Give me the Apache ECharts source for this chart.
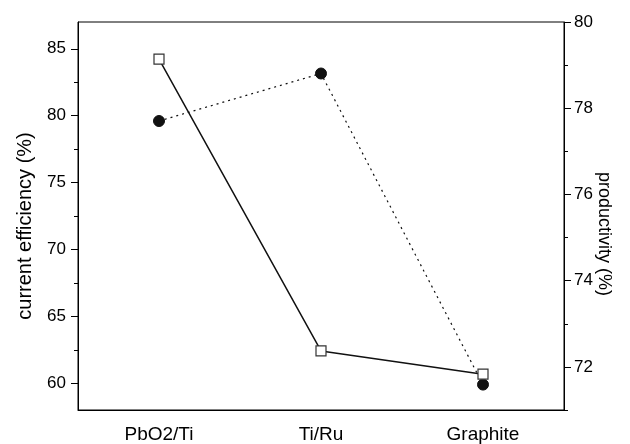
<!DOCTYPE html>
<html>
<head>
<meta charset="utf-8">
<script src="https://cdn.jsdelivr.net/npm/echarts@6/dist/echarts.min.js"></script>
<style>
html, body { margin: 0; padding: 0; background: #fff; }
#main { width: 630px; height: 444px; }
</style>
</head>
<body>
<div id="main"></div>
<script>
var categories = ['PbO2/Ti', 'Ti/Ru', 'Graphite'];
var efficiency = [79.6, 83.15, 59.9];
var productivity = [79.14, 72.37, 71.83];
var leftTicks = [60, 65, 70, 75, 80, 85];
var leftMinor = [62.5, 67.5, 72.5, 77.5, 82.5];
var rightTicks = [72, 74, 76, 78, 80];
var rightMinor = [71, 73, 75, 77, 79];

var dom = document.getElementById('main');
var myChart = echarts.init(dom);
var font = 'Liberation Sans';
var black = '#000';

var option = {
    backgroundColor: '#fff',
    animation: false,
    grid: {
        left: 78, right: 66, top: 22, bottom: 33,
        show: true, borderColor: black, borderWidth: 1, backgroundColor: 'transparent'
    },
    xAxis: [
        {
            type: 'category',
            data: categories,
            boundaryGap: true,
            axisLine: { lineStyle: { color: black, width: 1 } },
            axisTick: { alignWithLabel: true, length: 7, lineStyle: { color: black } },
            axisLabel: { color: black, fontFamily: font, fontSize: 19, margin: 15 }
        },
        {
            type: 'category',
            data: categories,
            position: 'bottom',
            boundaryGap: true,
            axisLine: { show: false },
            axisTick: { length: 4, lineStyle: { color: black } },
            axisLabel: { show: false }
        }
    ],
    yAxis: [
        {
            type: 'value',
            position: 'left',
            min: 58,
            max: 87,
            name: 'current efficiency (%)',
            nameLocation: 'middle',
            nameGap: 43,
            nameRotate: 90,
            nameTextStyle: { color: black, fontFamily: font, fontSize: 20, padding: [0, 20, 0, 0] },
            axisLine: { show: true, lineStyle: { color: black } },
            axisTick: { show: true, length: 7, customValues: leftTicks, lineStyle: { color: black } },
            axisLabel: { color: black, fontFamily: font, fontSize: 17, margin: 12, customValues: leftTicks },
            splitLine: { show: false }
        },
        {
            type: 'value',
            position: 'left',
            min: 58,
            max: 87,
            axisLine: { show: false },
            axisTick: { show: true, length: 4, customValues: leftMinor, lineStyle: { color: black } },
            axisLabel: { show: false },
            splitLine: { show: false }
        },
        {
            type: 'value',
            position: 'right',
            min: 71,
            max: 80,
            name: 'productivity (%)',
            nameLocation: 'middle',
            nameGap: 31,
            nameMoveOverlap: false,
            nameRotate: -90,
            nameTextStyle: { color: black, fontFamily: font, fontSize: 18, padding: [0, 0, 0, 36] },
            axisLine: { show: true, lineStyle: { color: black } },
            axisTick: { show: true, length: 7, customValues: rightTicks, lineStyle: { color: black } },
            axisLabel: { color: black, fontFamily: font, fontSize: 17, margin: 10, customValues: rightTicks },
            splitLine: { show: false }
        },
        {
            type: 'value',
            position: 'right',
            min: 71,
            max: 80,
            axisLine: { show: false },
            axisTick: { show: true, length: 4, customValues: rightMinor, lineStyle: { color: black } },
            axisLabel: { show: false },
            splitLine: { show: false }
        }
    ],
    series: [
        {
            name: 'current efficiency',
            type: 'line',
            xAxisIndex: 0,
            yAxisIndex: 0,
            data: efficiency,
            symbol: 'circle',
            symbolSize: 11,
            itemStyle: { color: '#111', borderColor: '#111' },
            lineStyle: { color: '#111', width: 1.2, type: [2, 4] },
            z: 3
        },
        {
            name: 'productivity',
            type: 'line',
            xAxisIndex: 0,
            yAxisIndex: 2,
            data: productivity,
            symbol: 'rect',
            symbolSize: 10,
            itemStyle: { color: '#fff', borderColor: '#333', borderWidth: 1.2 },
            lineStyle: { color: '#111', width: 1.5, type: 'solid' },
            z: 4
        }
    ]
};

if (option && typeof option === "object") {
    myChart.setOption(option, true);
}
</script>
</body>
</html>
